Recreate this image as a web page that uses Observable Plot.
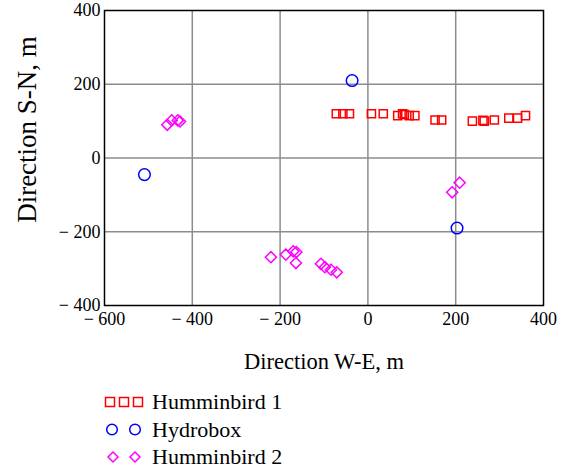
<!DOCTYPE html>
<html>
<head>
<meta charset="utf-8">
<script src="https://cdn.jsdelivr.net/npm/d3@7"></script>
<script src="https://cdn.jsdelivr.net/npm/@observablehq/plot@0.6"></script>
<style>
  html, body { margin: 0; background: #fff; }
  #chart svg, #legend svg { display: block; }
</style>
</head>
<body>
<div id="chart"></div>
<div id="legend"></div>
<script>
// Humminbird 1 (squares)
const h1X = [-72, -57, -42, 8, 35, 68, 79, 83, 94, 107, 153, 168, 238, 262, 265, 288, 321, 341, 359];
const h1Y = [120, 120, 120, 120, 120, 115, 120, 118, 115, 115, 103, 103, 100, 102, 100, 103, 108, 108, 115];
// Hydrobox (circles)
const hbX = [-36, -509, 203];
const hbY = [210, -45, -190];
// Humminbird 2 (diamonds)
const h2X = [-457, -447, -433, -428, -221, -187, -170, -163, -164, -107, -98, -84, -71, 192, 209];
const h2Y = [90, 102, 102, 99, -269, -262, -253, -255, -285, -287, -296, -303, -310, -93, -67];

const xTicks = [-600, -400, -200, 0, 200, 400];
const yTicks = [-400, -200, 0, 200, 400];
const seriesNames = ["Humminbird 1", "Hydrobox", "Humminbird 2"];
const seriesColors = ["#ff0000", "#0000ff", "#ff00ff"];

const SERIF = "'Liberation Serif', 'Times New Roman', serif";
const fmt = d => d < 0 ? "\u2212 " + (-d) : String(d);
const toRows = (xs, ys) => xs.map((x, i) => ({x, y: ys[i]}));

const plot = Plot.plot({
  width: 561,
  height: 385,
  marginLeft: 104,
  marginRight: 18,
  marginTop: 10,
  marginBottom: 80,
  style: {fontFamily: SERIF, fontSize: "18px", color: "#000", background: "#fff"},
  x: {domain: [-600, 400], ticks: xTicks, tickFormat: fmt},
  y: {domain: [-400, 400], ticks: yTicks, tickFormat: fmt},
  marks: [
    Plot.gridX(xTicks.slice(1, -1), {stroke: "#8c8c8c", strokeOpacity: 1, strokeWidth: 1.5}),
    Plot.gridY(yTicks.slice(1, -1), {stroke: "#8c8c8c", strokeOpacity: 1, strokeWidth: 1.5}),
    Plot.frame({stroke: "#000", strokeWidth: 1.5}),
    Plot.axisX({ticks: xTicks, tickFormat: fmt, tickSize: 0, tickPadding: 7, fontSize: 18, label: null}),
    Plot.axisY({ticks: yTicks, tickFormat: fmt, tickSize: 0, tickPadding: 4, fontSize: 18, label: null}),
    Plot.text(["Direction W-E, m"], {frameAnchor: "bottom", dy: 63, fontSize: 22.5, textAnchor: "middle"}),
    Plot.text(["Direction S-N, m"], {frameAnchor: "top-left", dx: -88, dy: 119, rotate: -90, fontSize: 27, textAnchor: "middle"}),
    Plot.dot(toRows(h1X, h1Y), {x: "x", y: "y", symbol: "square", r: 4.6, stroke: seriesColors[0], strokeWidth: 1.5, fill: "none"}),
    Plot.dot(toRows(hbX, hbY), {x: "x", y: "y", symbol: "circle", r: 5.8, stroke: seriesColors[1], strokeWidth: 1.5, fill: "none"}),
    Plot.dot(toRows(h2X, h2Y), {x: "x", y: "y", symbol: "diamond2", r: 5, stroke: seriesColors[2], strokeWidth: 1.5, fill: "none"})
  ]
});
document.getElementById("chart").appendChild(plot);

// Legend (below the chart SVG)
const lg = d3.select("#legend").append("svg").attr("width", 561).attr("height", 87)
  .attr("font-family", SERIF).attr("font-size", 22);
const shapes = [
  [{t: "rect", x: 110}, {t: "rect", x: 124}, {t: "rect", x: 138}],
  [{t: "circle", x: 112}, {t: "circle", x: 135}],
  [{t: "diamond", x: 113}, {t: "diamond", x: 135}]
];
seriesNames.forEach((name, i) => {
  const cy = 17 + i * 27.5;
  const g = lg.append("g").attr("fill", "none").attr("stroke", seriesColors[i]).attr("stroke-width", 1.5);
  shapes[i].forEach(sh => {
    if (sh.t === "rect") g.append("rect").attr("x", sh.x - 4.5).attr("y", cy - 4.5).attr("width", 9).attr("height", 9);
    else if (sh.t === "circle") g.append("circle").attr("cx", sh.x).attr("cy", cy).attr("r", 5.3);
    else g.append("path").attr("d", `M${sh.x},${cy - 5} L${sh.x + 5},${cy} L${sh.x},${cy + 5} L${sh.x - 5},${cy} Z`);
  });
  lg.append("text").attr("x", 152).attr("y", cy).attr("dy", "0.34em").attr("fill", "#000").text(name);
});
</script>
</body>
</html>
